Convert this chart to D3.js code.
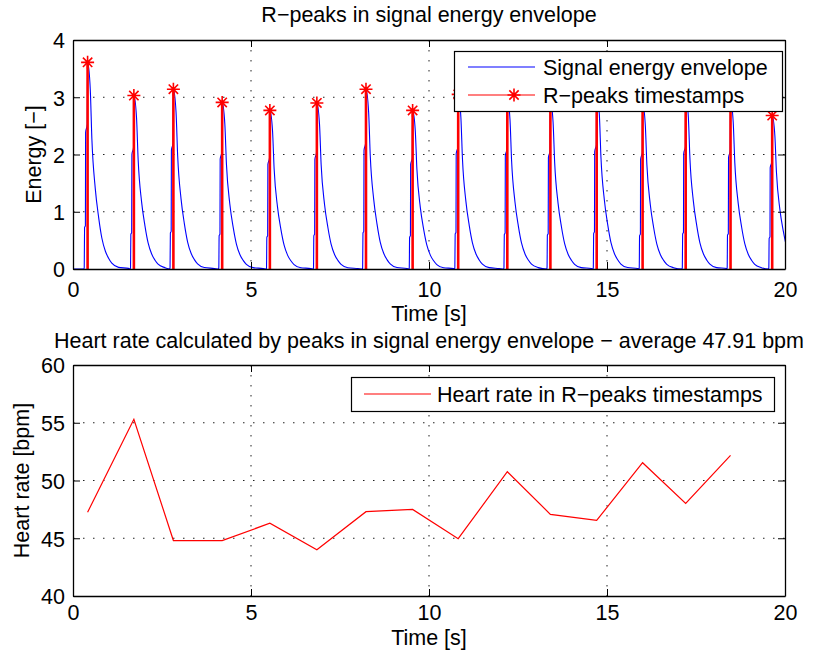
<!DOCTYPE html>
<html><head><meta charset="utf-8">
<script src="https://cdn.jsdelivr.net/npm/d3@7"></script>
<style>
body{margin:0;background:#fff}
text{font-family:"Liberation Sans",Arial,Helvetica,sans-serif;fill:#000}
</style>
</head><body>
<script>
// ---------- data ----------
const peakTimes   = [0.41, 1.71, 2.82, 4.19, 5.53, 6.85, 8.23, 9.54, 10.82, 12.20, 13.41, 14.71, 16.00, 17.21, 18.47, 19.64];
const peakHeights = [3.61, 3.03, 3.14, 2.91, 2.77, 2.90, 3.14, 2.77, 3.05, 3.00, 2.95, 3.10, 2.90, 3.05, 2.95, 2.68];
// shape of one envelope pulse (offset from peak [s], fraction of peak height)
const pulseOffsets = [-0.100, -0.094, -0.085, -0.062, -0.056, -0.010, 0, 0.075, 0.12, 0.215, 0.31, 0.40, 0.50, 0.59, 0.68, 0.87, 1.15];
const pulseShape   = [0, 0.01, 0.20, 0.21, 0.66, 0.70, 1, 0.87, 0.63, 0.39, 0.25, 0.15, 0.086, 0.052, 0.028, 0.008, 0.003];
const hrTimes  = [0.41, 1.71, 2.82, 4.19, 5.53, 6.85, 8.23, 9.54, 10.82, 12.20, 13.41, 14.71, 16.00, 17.21, 18.47];
const hrValues = [47.25, 55.3, 44.8, 44.8, 46.3, 44.0, 47.3, 47.5, 44.96, 50.76, 47.07, 46.55, 51.54, 48.02, 52.18];
const timeTicks   = [0, 5, 10, 15, 20];
const energyTicks = [0, 1, 2, 3, 4];
const hrTicks     = [40, 45, 50, 55, 60];
const title1 = "R\u2212peaks in signal energy envelope";
const title2 = "Heart rate calculated by peaks in signal energy envelope \u2212 average 47.91 bpm";
const legend1 = ["Signal energy envelope", "R\u2212peaks timestamps"];
const legend2 = ["Heart rate in R\u2212peaks timestamps"];

// ---------- setup ----------
const W = 814, H = 657, FS = 21.5;
const svg = d3.select("body").append("svg").attr("width", W).attr("height", H)
  .style("font-size", FS + "px");
svg.append("rect").attr("width", W).attr("height", H).attr("fill", "#fff");

function starPath(r) {
  const d = r * 0.72;
  return `M${-r},0L${r},0M0,${-r}L0,${r}M${-d},${-d}L${d},${d}M${-d},${d}L${d},${-d}`;
}

function makeAxes(g, x, y, yTicks, w, h, clipId) {
  const grid = g.append("g").attr("stroke", "#222").attr("stroke-width", 1).attr("stroke-dasharray", "1.5,8.5");
  grid.selectAll("line.gx").data(timeTicks.slice(1, -1)).join("line")
    .attr("x1", d => x(d)).attr("x2", d => x(d)).attr("y1", 0).attr("y2", h);
  grid.selectAll("line.gy").data(yTicks.slice(1, -1)).join("line")
    .attr("x1", 0).attr("x2", w).attr("y1", d => y(d)).attr("y2", d => y(d));
  g.append("clipPath").attr("id", clipId).append("rect").attr("width", w).attr("height", h);
}

function finishAxes(g, x, y, yTicks, w, h, xPad) {
  const style = sel => {
    sel.selectAll("path").attr("stroke", "#000").attr("stroke-width", 1.3);
    sel.selectAll("line").attr("stroke", "#000").attr("stroke-width", 1);
    sel.selectAll("text").attr("font-size", FS).attr("fill", "#000");
    sel.attr("font-family", null).attr("font-size", null);
  };
  g.append("g").attr("transform", `translate(0,${h})`)
    .call(d3.axisBottom(x).tickValues(timeTicks).tickSizeInner(-7).tickSizeOuter(0).tickPadding(xPad).tickFormat(d3.format("d")))
    .call(style);
  g.append("g")
    .call(d3.axisTop(x).tickValues(timeTicks).tickSizeInner(-7).tickSizeOuter(0).tickFormat(""))
    .call(style);
  g.append("g")
    .call(d3.axisLeft(y).tickValues(yTicks).tickSizeInner(-7).tickSizeOuter(0).tickPadding(8).tickFormat(d3.format("d")))
    .call(style)
    .selectAll("text").attr("dy", "0.36em");
  g.append("g").attr("transform", `translate(${w},0)`)
    .call(d3.axisRight(y).tickValues(yTicks).tickSizeInner(-7).tickSizeOuter(0).tickFormat(""))
    .call(style);
}

// ---------- top chart ----------
const m1 = {l: 73, t: 40, w: 712, h: 229};
const g1 = svg.append("g").attr("transform", `translate(${m1.l},${m1.t})`);
const x1 = d3.scaleLinear().domain([0, 20]).range([0, m1.w]);
const y1 = d3.scaleLinear().domain([0, 4]).range([m1.h, 0]);
makeAxes(g1, x1, y1, energyTicks, m1.w, m1.h, "clip1");

const env = [[0, 0]];
peakTimes.forEach((t, i) => {
  const limit = i < peakTimes.length - 1 ? peakTimes[i + 1] + pulseOffsets[0] : Infinity;
  pulseOffsets.forEach((o, j) => {
    if (t + o < limit) env.push([t + o, pulseShape[j] * peakHeights[i]]);
  });
});
const plot1 = g1.append("g").attr("clip-path", "url(#clip1)");
plot1.append("path").datum(env)
  .attr("fill", "none").attr("stroke", "#0000ff").attr("stroke-width", 1.1)
  .attr("d", d3.line().x(d => x1(d[0])).y(d => y1(d[1])).curve(d3.curveMonotoneX));
plot1.selectAll("line.stem").data(peakTimes).join("line")
  .attr("x1", d => x1(d)).attr("x2", d => x1(d))
  .attr("y1", y1(0)).attr("y2", (d, i) => y1(peakHeights[i]))
  .attr("stroke", "#ff0000").attr("stroke-width", 2.6);
g1.selectAll("path.star").data(peakTimes).join("path")
  .attr("transform", (d, i) => `translate(${x1(d)},${y1(peakHeights[i])})`)
  .attr("d", starPath(6.5)).attr("stroke", "#ff0000").attr("stroke-width", 1.6).attr("fill", "none");

finishAxes(g1, x1, y1, energyTicks, m1.w, m1.h, 13);

// legend top
const lg1 = svg.append("g");
lg1.append("rect").attr("x", 454.5).attr("y", 51.5).attr("width", 328).attr("height", 60)
  .attr("fill", "#fff").attr("stroke", "#000").attr("stroke-width", 1.2);
lg1.append("line").attr("x1", 468).attr("x2", 535).attr("y1", 67).attr("y2", 67).attr("stroke", "#0000ff").attr("stroke-width", 1.1);
lg1.append("line").attr("x1", 468).attr("x2", 535).attr("y1", 95).attr("y2", 95).attr("stroke", "#ff0000").attr("stroke-width", 1.1);
lg1.append("path").attr("transform", "translate(514,95)").attr("d", starPath(6.5)).attr("stroke", "#ff0000").attr("stroke-width", 1.6).attr("fill", "none");
lg1.selectAll("text").data(legend1).join("text")
  .attr("x", 543).attr("y", (d, i) => 67 + 28 * i).attr("dy", "0.36em").text(d => d);

// ---------- bottom chart ----------
const m2 = {l: 73, t: 365, w: 712, h: 231};
const g2 = svg.append("g").attr("transform", `translate(${m2.l},${m2.t})`);
const x2 = d3.scaleLinear().domain([0, 20]).range([0, m2.w]);
const y2 = d3.scaleLinear().domain([40, 60]).range([m2.h, 0]);
makeAxes(g2, x2, y2, hrTicks, m2.w, m2.h, "clip2");
g2.append("path").datum(hrTimes.map((t, i) => [t, hrValues[i]]))
  .attr("clip-path", "url(#clip2)")
  .attr("fill", "none").attr("stroke", "#ff0000").attr("stroke-width", 1.2)
  .attr("d", d3.line().x(d => x2(d[0])).y(d => y2(d[1])));
finishAxes(g2, x2, y2, hrTicks, m2.w, m2.h, 9);

const lg2 = svg.append("g");
lg2.append("rect").attr("x", 351.5).attr("y", 377.5).attr("width", 423).attr("height", 34)
  .attr("fill", "#fff").attr("stroke", "#000").attr("stroke-width", 1.2);
lg2.append("line").attr("x1", 364).attr("x2", 431).attr("y1", 394).attr("y2", 394).attr("stroke", "#ff0000").attr("stroke-width", 1.2);
lg2.selectAll("text").data(legend2).join("text")
  .attr("x", 437).attr("y", 394).attr("dy", "0.36em").text(d => d);

// ---------- titles & labels ----------
const cx = m1.l + m1.w / 2;
svg.append("text").attr("x", cx).attr("y", 22).attr("text-anchor", "middle").text(title1);
svg.append("text").attr("x", cx).attr("y", 348).attr("text-anchor", "middle").text(title2);
svg.append("text").attr("x", cx).attr("y", 321).attr("text-anchor", "middle").text("Time [s]");
svg.append("text").attr("x", cx).attr("y", 645).attr("text-anchor", "middle").text("Time [s]");
svg.append("text").attr("transform", `translate(41,${m1.t + m1.h / 2}) rotate(-90)`).attr("text-anchor", "middle").text("Energy [\u2212]");
svg.append("text").attr("transform", `translate(29,${m2.t + m2.h / 2}) rotate(-90)`).attr("text-anchor", "middle").text("Heart rate [bpm]");
</script>
</body></html>
